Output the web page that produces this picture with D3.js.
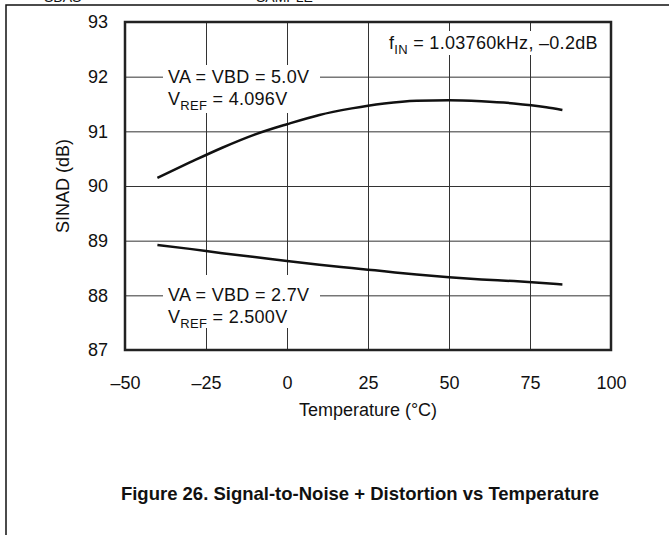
<html lang="en">
<head>
  <meta charset="UTF-8"/>
  <title>SINAD vs Temperature</title>
  <script src="https://d3js.org/d3.v7.min.js"></script>
  <style>
    body { margin: 0; background: #fff; }
    text { font-family: "Liberation Sans", Arial, Helvetica, sans-serif; fill: #111; }
  </style>
</head>
<body>
<svg id="chart" width="669" height="535"></svg>
<script>
  // temperature points (°C)
  const temps = [-40, -30, -20, -10, 0, 10, 20, 25, 30, 40, 50, 60, 70, 80, 85];
  // VA = VBD = 5.0V, VREF = 4.096V
  const sinad5v = [90.15, 90.43, 90.70, 90.94, 91.13, 91.30, 91.42, 91.47, 91.51, 91.56, 91.57, 91.55, 91.51, 91.44, 91.39];
  // VA = VBD = 2.7V, VREF = 2.500V
  const sinad27v = [88.92, 88.85, 88.77, 88.70, 88.63, 88.56, 88.50, 88.47, 88.44, 88.38, 88.33, 88.29, 88.26, 88.22, 88.20];
  const xTicks = [-50, -25, 0, 25, 50, 75, 100];
  const yTicks = [87, 88, 89, 90, 91, 92, 93];

  const svg = d3.select('#chart');
  const pLeft = 125, pRight = 611, pTop = 22, pBottom = 350;

  const x = d3.scaleLinear().domain([-50, 100]).range([pLeft, pRight]);
  const y = d3.scaleLinear().domain([87, 93]).range([pBottom, pTop]);

  // page frame
  svg.append('path')
    .attr('d', 'M6,535 L6,5 L669,5')
    .attr('fill', 'none')
    .attr('stroke', '#111')
    .attr('stroke-width', 1.5);

  // header fragments, cropped at the top edge as in the scan
  svg.append('text').attr('x', 44).attr('y', 2).style('font-size', '14px').text('SBAS');
  svg.append('text').attr('x', 256).attr('y', 2).style('font-size', '14px').text('SAMPLE');

  // gridlines
  svg.append('g')
    .attr('transform', `translate(0,${pBottom})`)
    .call(d3.axisBottom(x).tickValues(xTicks).tickSize(-(pBottom - pTop)).tickFormat(''))
    .call(g => g.select('.domain').remove())
    .selectAll('line').attr('stroke', '#333').attr('stroke-width', 1);

  svg.append('g')
    .attr('transform', `translate(${pLeft},0)`)
    .call(d3.axisLeft(y).tickValues(yTicks).tickSize(-(pRight - pLeft)).tickFormat(''))
    .call(g => g.select('.domain').remove())
    .selectAll('line').attr('stroke', '#333').attr('stroke-width', 1);

  // white boxes behind annotations
  const boxes = [[163, 65, 157, 48], [163, 275, 157, 53], [384, 31, 226, 24]];
  boxes.forEach(b => svg.append('rect')
    .attr('x', b[0]).attr('y', b[1]).attr('width', b[2]).attr('height', b[3])
    .attr('fill', '#fff'));

  // plot border
  svg.append('rect')
    .attr('x', pLeft).attr('y', pTop)
    .attr('width', pRight - pLeft).attr('height', pBottom - pTop)
    .attr('fill', 'none')
    .attr('stroke', '#222')
    .attr('stroke-width', 2.5);

  // tick labels
  svg.append('g')
    .attr('transform', `translate(0,${pBottom})`)
    .call(d3.axisBottom(x).tickValues(xTicks).tickSize(0).tickPadding(26)
      .tickFormat(d => d < 0 ? '\u2013' + Math.abs(d) : d))
    .call(g => g.select('.domain').remove())
    .selectAll('text').style('font-size', '18px').attr('fill', '#111');

  svg.append('g')
    .attr('transform', `translate(${pLeft},0)`)
    .call(d3.axisLeft(y).tickValues(yTicks).tickSize(0).tickPadding(17).tickFormat(d3.format('d')))
    .call(g => g.select('.domain').remove())
    .selectAll('text').style('font-size', '18px').attr('fill', '#111');

  // curves
  const line = d3.line()
    .x((d, i) => x(temps[i]))
    .y(d => y(d))
    .curve(d3.curveMonotoneX);

  [sinad5v, sinad27v].forEach(s => svg.append('path')
    .attr('d', line(s))
    .attr('fill', 'none')
    .attr('stroke', '#111')
    .attr('stroke-width', 2.5));

  // annotations
  function label(xp, yp, main, sub, rest) {
    const t = svg.append('text').attr('x', xp).attr('y', yp)
      .style('font-size', '18px').style('letter-spacing', '0.3px');
    t.append('tspan').text(main);
    if (sub) {
      t.append('tspan').attr('dy', 5).style('font-size', '13px').text(sub);
      t.append('tspan').attr('dy', -5).text(rest);
    }
  }
  label(168, 83, 'VA = VBD = 5.0V');
  label(168, 105, 'V', 'REF', ' = 4.096V');
  label(168, 301, 'VA = VBD = 2.7V');
  label(168, 323, 'V', 'REF', ' = 2.500V');
  label(389, 49, 'f', 'IN', ' = 1.03760kHz, \u20130.2dB');

  // axis titles
  svg.append('text')
    .attr('x', x(25)).attr('y', 416)
    .attr('text-anchor', 'middle')
    .style('font-size', '18px')
    .text('Temperature (\u00B0C)');

  svg.append('text')
    .attr('transform', `translate(69,${y(90)}) rotate(-90)`)
    .attr('text-anchor', 'middle')
    .style('font-size', '18px')
    .text('SINAD (dB)');

  svg.append('text')
    .attr('x', 360).attr('y', 500)
    .attr('text-anchor', 'middle')
    .style('font-size', '18.5px')
    .style('font-weight', 'bold')
    .text('Figure 26. Signal-to-Noise + Distortion vs Temperature');
</script>
</body>
</html>
